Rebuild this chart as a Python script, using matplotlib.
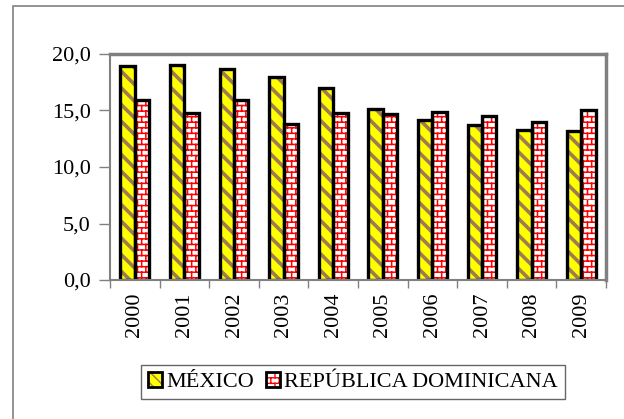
import warnings
import numpy as np
import matplotlib
matplotlib.use("Agg")
import matplotlib.pyplot as plt
from matplotlib import hatch as mhatch
from matplotlib.path import Path
from matplotlib.patches import Patch, Rectangle
from matplotlib.ticker import FuncFormatter

warnings.filterwarnings("ignore")

# datos
years = ["2000", "2001", "2002", "2003", "2004", "2005", "2006", "2007", "2008", "2009"]
mexico = [18.9, 19.0, 18.7, 18.0, 17.0, 15.1, 14.2, 13.7, 13.3, 13.2]
dominicana = [15.9, 14.8, 15.9, 13.8, 14.8, 14.7, 14.9, 14.5, 14.0, 15.0]
labels = ["MÉXICO", "REPÚBLICA DOMINICANA"]


# patrón de ladrillos para la serie de República Dominicana
class BrickHatch(mhatch.HatchPatternBase):
    def __init__(self, hatch, density):
        self.on = "b" in hatch
        self.rows, self.cols = 18, 12
        self.num_vertices = (self.rows + self.rows * self.cols) * 2 if self.on else 0

    def set_vertices_and_codes(self, vertices, codes):
        segs = []
        for i in range(self.rows):
            y0 = i / self.rows
            y1 = (i + 1) / self.rows
            segs.append(((0, y0), (1, y0)))
            off = 0.5 / self.cols if i % 2 else 0
            for j in range(self.cols):
                x = j / self.cols + off
                segs.append(((x, y0), (x, y1)))
        vertices[:] = np.array(segs).reshape(-1, 2)
        codes[0::2] = Path.MOVETO
        codes[1::2] = Path.LINETO


mhatch._hatch_types.append(BrickHatch)

plt.rcParams["font.family"] = ["Liberation Serif", "DejaVu Serif"]
plt.rcParams["font.size"] = 16

fig = plt.figure(figsize=(6.24, 4.19), dpi=100)
ax = fig.add_axes([110 / 624, 1 - 280 / 419, 496 / 624, 226 / 419])

# marco exterior
fig.patches.append(Rectangle((13 / 624, -0.1), 1.2, 1.1 - 6 / 419, transform=fig.transFigure,
                             fill=False, edgecolor="#808080", lw=1.2))

x = np.arange(len(years))
w = 0.29
yellow, brown, red = "#FFFF00", "#9E7B50", "#FF0000"

with plt.rc_context({"hatch.linewidth": 2.6}):
    ax.bar(x - w / 2, mexico, w, color=yellow, hatch="\\\\", edgecolor=brown, lw=0)
    h1 = Patch(facecolor=yellow, hatch="\\\\\\", edgecolor=brown, lw=0)
with plt.rc_context({"hatch.linewidth": 1.1}):
    ax.bar(x + w / 2, dominicana, w, color="white", hatch="b", edgecolor=red, lw=0)
    h2 = Patch(facecolor="white", hatch="b", edgecolor=red, lw=0)
ax.bar(x - w / 2, mexico, w, facecolor="none", edgecolor="black", lw=2.4)
ax.bar(x + w / 2, dominicana, w, facecolor="none", edgecolor="black", lw=2.4)

ax.set_xlim(-0.5, len(years) - 0.5)
ax.set_ylim(0, 20)
ax.set_yticks(np.arange(0, 20.1, 5))
ax.yaxis.set_major_formatter(FuncFormatter(lambda v, p: f"{v:.1f}".replace(".", ",")))
ax.tick_params(axis="y", length=8, width=1, color="#808080", pad=6)

ax.set_xticks(np.arange(-0.5, len(years), 1))
ax.set_xticklabels([])
ax.tick_params(axis="x", which="major", length=6, width=1, color="#808080", direction="out")
ax.set_xticks(x, minor=True)
ax.set_xticklabels(years, minor=True, rotation=90)
ax.tick_params(axis="x", which="minor", length=0, pad=9)

for s in ax.spines.values():
    s.set_color("#808080")
    s.set_linewidth(1.5)
ax.spines["top"].set_linewidth(2.5)
ax.spines["right"].set_linewidth(2.5)

outline = Patch(facecolor="none", edgecolor="black", lw=2)
leg = fig.legend([(h1, outline), (h2, outline)], labels, ncol=2,
                 loc="center", bbox_to_anchor=(353 / 624, 1 - 382 / 419),
                 frameon=True, fancybox=False, edgecolor="#404040",
                 handlelength=0.65, handleheight=0.65, handletextpad=0.2,
                 columnspacing=0.5, borderpad=0.3, borderaxespad=0)
leg.get_frame().set_linewidth(1)

fig.savefig("out.png", dpi=100)
